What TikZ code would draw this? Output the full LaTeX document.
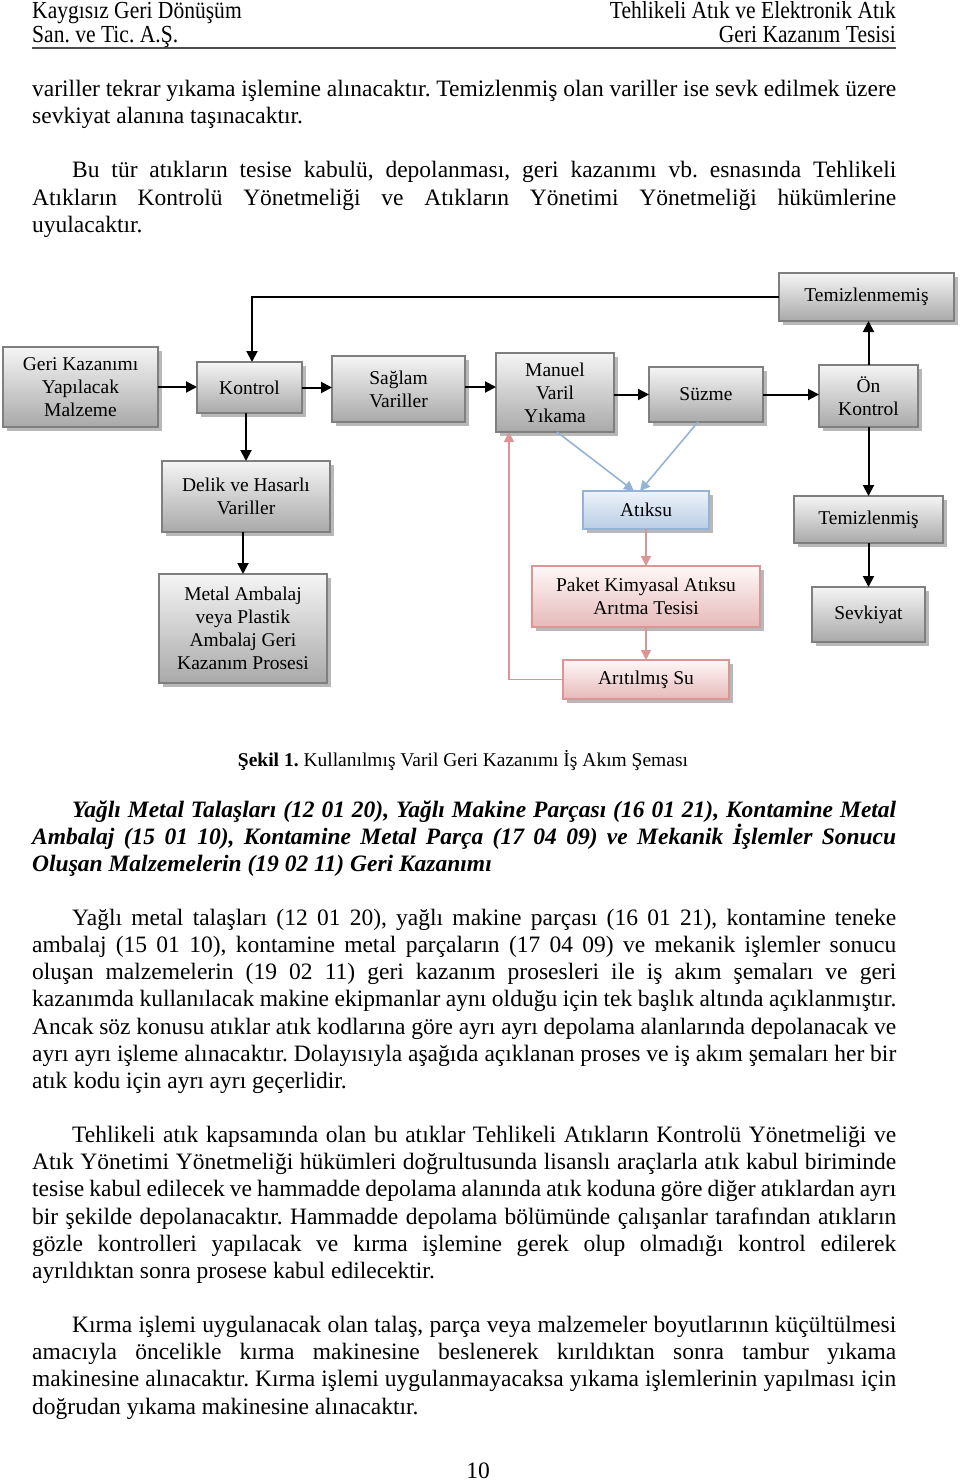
\documentclass[tikz,border=0pt]{standalone}
\usepackage{fontspec}
\setmainfont{Liberation Serif}
\usepackage{xcolor}
\definecolor{gtop}{HTML}{F5F5F5}
\definecolor{gbot}{HTML}{A9A9A9}
\definecolor{gline}{HTML}{7F7F7F}
\definecolor{btop}{HTML}{EEF3FA}
\definecolor{bbot}{HTML}{B9CDE5}
\definecolor{bline}{HTML}{95B3D7}
\definecolor{ptop}{HTML}{FFF8F8}
\definecolor{pbot}{HTML}{E6B9B8}
\definecolor{pline}{HTML}{D99694}
\usetikzlibrary{arrows.meta,shadows}
\frenchspacing

\begin{document}
\begin{tikzpicture}[x=1pt,y=-1pt,
    txt/.style={anchor=base west, inner sep=0pt, font=\fontsize{23.5}{27}\selectfont},
    head/.style={inner sep=0pt, font=\fontsize{24.5}{28}\selectfont},
    box/.style={line width=1.4pt, align=center, inner sep=0pt, outer sep=0pt,
      font=\fontsize{19.5}{23}\selectfont,
      drop shadow={shadow xshift=3.5pt, shadow yshift=-3.5pt, fill=black!28, opacity=1}},
    gbox/.style={box, draw=gline, top color=gtop, bottom color=gbot},
    bbox/.style={box, draw=bline, top color=btop, bottom color=bbot},
    pbox/.style={box, draw=pline, top color=ptop, bottom color=pbot},
    arr/.style={line width=2pt, -{Triangle[length=11pt,width=11pt]}},
    barr/.style={bline, line width=1.6pt, -{Triangle[length=10pt,width=10pt]}},
    parr/.style={pline, line width=1.6pt, -{Triangle[length=10pt,width=10pt]}}]

    % Page
    \fill[white] (0,0) rectangle (960,1482);
    \useasboundingbox (0,0) rectangle (960,1482);
    \def\jl#1#2#3#4{\node[txt] (#1) at #2 {\makebox[#3pt][s]{#4}};}

    % Header
    \node[head, anchor=base west] (hl1) at (32,19) {\scalebox{0.88}[1]{Kaygısız Geri Dönüşüm}};
    \node[head, anchor=base west] (hl2) at (32,43) {\scalebox{0.88}[1]{San. ve Tic. A.Ş.}};
    \node[head, anchor=base east] (hr1) at (896,19) {\scalebox{0.88}[1]{Tehlikeli Atık ve Elektronik Atık}};
    \node[head, anchor=base east] (hr2) at (896,43) {\scalebox{0.88}[1]{Geri Kazanım Tesisi}};
    \draw[black!70, line width=2.2pt] (32,48) -- (896,48);

    % Text above the figure
    \jl{pa1}{(32,97)}{864}{variller tekrar yıkama işlemine alınacaktır. Temizlenmiş olan variller ise sevk edilmek üzere}
    \node[txt] (pa2) at (32,124) {sevkiyat alanına taşınacaktır.};
    \jl{pb1}{(72,178)}{824}{Bu tür atıkların tesise kabulü, depolanması, geri kazanımı vb. esnasında Tehlikeli}
    \jl{pb2}{(32,205)}{864}{Atıkların Kontrolü Yönetmeliği ve Atıkların Yönetimi Yönetmeliği hükümlerine}
    \node[txt] (pb3) at (32,232) {uyulacaktır.};

    % Boxes of the flow chart
    \node[gbox, minimum width=155pt, minimum height=80pt] (geri) at (80.5,387) {Geri Kazanımı\\Yapılacak\\Malzeme};
    \node[gbox, minimum width=105pt, minimum height=51pt] (kontrol) at (249.5,387.5) {Kontrol};
    \node[gbox, minimum width=133pt, minimum height=66pt] (saglam) at (398.5,389) {Sağlam\\Variller};
    \node[gbox, minimum width=118pt, minimum height=79pt] (manuel) at (555,392.5) {Manuel\\Varil\\Yıkama};
    \node[gbox, minimum width=114pt, minimum height=55pt] (suzme) at (706,394.5) {Süzme};
    \node[gbox, minimum width=99pt, minimum height=62pt] (onk) at (868.5,396) {Ön\\Kontrol};
    \node[gbox, minimum width=175pt, minimum height=48pt] (temm) at (866.5,297) {Temizlenmemiş};
    \node[gbox, minimum width=168pt, minimum height=71pt] (delik) at (246,496.5) {Delik ve Hasarlı\\Variller};
    \node[gbox, minimum width=168pt, minimum height=109pt] (metal) at (243,628.5) {Metal Ambalaj\\veya Plastik\\Ambalaj Geri\\Kazanım Prosesi};
    \node[bbox, minimum width=126pt, minimum height=38pt] (atiksu) at (646,510) {Atıksu};
    \node[pbox, minimum width=228pt, minimum height=61pt] (paket) at (646,596.5) {Paket Kimyasal Atıksu\\Arıtma Tesisi};
    \node[pbox, minimum width=166pt, minimum height=39pt] (aritilmis) at (646,679.5) {Arıtılmış Su};
    \node[gbox, minimum width=149pt, minimum height=47pt] (temz) at (868.5,519.5) {Temizlenmiş};
    \node[gbox, minimum width=113pt, minimum height=55pt] (sevk) at (868.5,614.5) {Sevkiyat};

    % Black connectors
    \draw[arr] (geri.east) -- (geri.east -| kontrol.west);
    \draw[arr] (kontrol.east) -- (kontrol.east -| saglam.west);
    \draw[arr] ([yshift=2pt]saglam.east) -- ([yshift=2pt]saglam.east -| manuel.west);
    \draw[arr] (manuel.east |- suzme.east) -- (suzme.west);
    \draw[arr] (suzme.east) -- (suzme.east -| onk.west);
    \draw[arr] (onk.north) -- (onk.north |- temm.south);
    \draw[arr] (temm.west) -| ([xshift=2.5pt]kontrol.north);
    \draw[arr] (delik.north |- kontrol.south) -- (delik.north);
    \draw[arr] (metal.north |- delik.south) -- (metal.north);
    \draw[arr] (onk.south) -- (temz.north);
    \draw[arr] (temz.south) -- (sevk.north);

    % Water connectors
    \draw[barr] ([xshift=2pt]manuel.south) -- ([xshift=-12pt]atiksu.north);
    \draw[barr] ([xshift=-8pt]suzme.south) -- ([xshift=-6pt]atiksu.north);
    \draw[parr] (atiksu.south) -- (paket.north);
    \draw[parr] (paket.south) -- (aritilmis.north);
    \draw[parr] (aritilmis.west) -| ([xshift=-46pt]manuel.south);

    % Caption
    \node[anchor=base, inner sep=0pt, font=\fontsize{19.5}{23}\selectfont] (cap) at (463,766) {\textbf{Şekil 1.} Kullanılmış Varil Geri Kazanımı İş Akım Şeması};

    % Heading
    \jl{ha1}{(72,817)}{824}{\bfseries\itshape Yağlı Metal Talaşları (12 01 20), Yağlı Makine Parçası (16 01 21), Kontamine Metal}
    \jl{ha2}{(32,844)}{864}{\bfseries\itshape Ambalaj (15 01 10), Kontamine Metal Parça (17 04 09) ve Mekanik İşlemler Sonucu}
    \node[txt] (ha3) at (32,871) {\bfseries\itshape Oluşan Malzemelerin (19 02 11) Geri Kazanımı};

    % Paragraph 1
    \jl{pc1}{(72,925)}{824}{Yağlı metal talaşları (12 01 20), yağlı makine parçası (16 01 21), kontamine teneke}
    \jl{pc2}{(32,952)}{864}{ambalaj (15 01 10), kontamine metal parçaların (17 04 09) ve mekanik işlemler sonucu}
    \jl{pc3}{(32,979)}{864}{oluşan malzemelerin (19 02 11) geri kazanım prosesleri ile iş akım şemaları ve geri}
    \jl{pc4}{(32,1006)}{864}{kazanımda kullanılacak makine ekipmanlar aynı olduğu için tek başlık altında açıklanmıştır.}
    \jl{pc5}{(32,1034)}{864}{Ancak söz konusu atıklar atık kodlarına göre ayrı ayrı depolama alanlarında depolanacak ve}
    \jl{pc6}{(32,1061)}{864}{ayrı ayrı işleme alınacaktır. Dolayısıyla aşağıda açıklanan proses ve iş akım şemaları her bir}
    \node[txt] (pc7) at (32,1088) {atık kodu için ayrı ayrı geçerlidir.};

    % Paragraph 2
    \jl{pd1}{(72,1142)}{824}{Tehlikeli atık kapsamında olan bu atıklar Tehlikeli Atıkların Kontrolü Yönetmeliği ve}
    \jl{pd2}{(32,1169)}{864}{Atık Yönetimi Yönetmeliği hükümleri doğrultusunda lisanslı araçlarla atık kabul biriminde}
    \jl{pd3}{(32,1196)}{864}{tesise kabul edilecek ve hammadde depolama alanında atık koduna göre diğer atıklardan ayrı}
    \jl{pd4}{(32,1224)}{864}{bir şekilde depolanacaktır. Hammadde depolama bölümünde çalışanlar tarafından atıkların}
    \jl{pd5}{(32,1251)}{864}{gözle kontrolleri yapılacak ve kırma işlemine gerek olup olmadığı kontrol edilerek}
    \node[txt] (pd6) at (32,1278) {ayrıldıktan sonra prosese kabul edilecektir.};

    % Paragraph 3
    \jl{pe1}{(72,1332)}{824}{Kırma işlemi uygulanacak olan talaş, parça veya malzemeler boyutlarının küçültülmesi}
    \jl{pe2}{(32,1359)}{864}{amacıyla öncelikle kırma makinesine beslenerek kırıldıktan sonra tambur yıkama}
    \jl{pe3}{(32,1386)}{864}{makinesine alınacaktır. Kırma işlemi uygulanmayacaksa yıkama işlemlerinin yapılması için}
    \node[txt] (pe4) at (32,1414) {doğrudan yıkama makinesine alınacaktır.};

    % Page number
    \node[anchor=base, inner sep=0pt, font=\fontsize{23.5}{27}\selectfont] (pno) at (478,1478) {10};
\end{tikzpicture}
\end{document}
